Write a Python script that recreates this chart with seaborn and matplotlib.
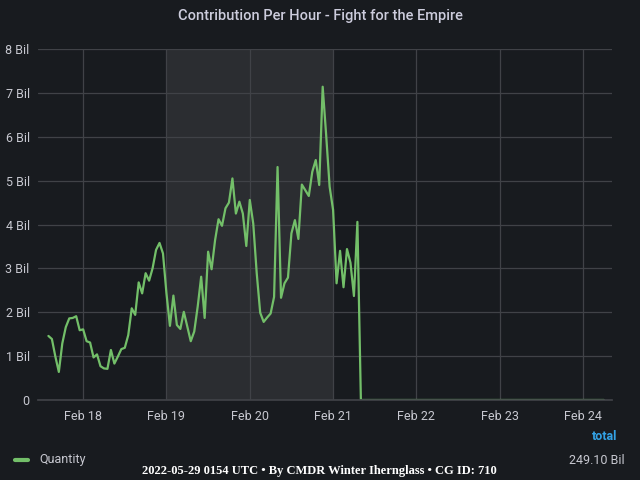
import numpy as np
import pandas as pd
import matplotlib
matplotlib.use("Agg")
import matplotlib.pyplot as plt
import matplotlib.dates as mdates
from matplotlib.ticker import FuncFormatter
import seaborn as sns

# hourly contribution, in billions, from Feb 17 14:00 UTC
start_time = "2022-02-17 14:00"
contrib_bil = [
    1.46, 1.39, 0.99, 0.64, 1.29, 1.66, 1.86, 1.87, 1.91, 1.59,
    1.61, 1.34, 1.31, 0.97, 1.04, 0.77, 0.72, 0.71, 1.14, 0.83,
    0.99, 1.16, 1.19, 1.48, 2.09, 1.94, 2.68, 2.43, 2.89, 2.72,
    3.00, 3.42, 3.58, 3.34, 2.43, 1.69, 2.38, 1.71, 1.62, 2.01,
    1.67, 1.34, 1.56, 2.13, 2.81, 1.87, 3.38, 2.98, 3.64, 4.12,
    3.97, 4.37, 4.50, 5.05, 4.25, 4.52, 4.25, 3.51, 4.56, 4.02,
    2.89, 1.99, 1.78, 1.88, 1.97, 2.35, 5.31, 2.33, 2.66, 2.79,
    3.80, 4.10, 3.67, 4.91, 4.78, 4.65, 5.20, 5.47, 4.90, 7.14,
    6.04, 4.86, 4.33, 2.66, 3.40, 2.57, 3.44, 3.13, 2.37, 4.06,
] + [0.0] * 71
series_name = "Quantity"
total_label = "249.10 Bil"
title = "Contribution Per Hour - Fight for the Empire"
footer = "2022-05-29 0154 UTC \u2022 By CMDR Winter Ihernglass \u2022 CG ID: 710"
highlight = ("2022-02-19 00:00", "2022-02-21 00:00")
x_range = ("2022-02-17 11:00", "2022-02-24 08:20")

df = pd.DataFrame({
    "time": pd.date_range(start_time, periods=len(contrib_bil), freq="h"),
    "value": contrib_bil,
})

bg = "#181b1f"
grid_c = "#404247"
text_c = "#c7c8d0"
green = "#73bf69"

sns.set_theme(style="dark", rc={
    "figure.facecolor": bg, "axes.facecolor": bg,
    "axes.edgecolor": grid_c, "grid.color": grid_c,
    "text.color": text_c, "xtick.color": text_c, "ytick.color": text_c,
    "axes.labelcolor": text_c,
})
plt.rcParams["font.family"] = ["Roboto", "DejaVu Sans"]

fig = plt.figure(figsize=(6.4, 4.8), dpi=100)
ax = fig.add_axes([38 / 640, 80 / 480, 574 / 640, 351 / 480])

ax.axvspan(pd.Timestamp(highlight[0]), pd.Timestamp(highlight[1]),
           color="#2b2d31", zorder=0.2, lw=0)
sns.lineplot(data=df, x="time", y="value", ax=ax, color=green, lw=1.6,
             legend=False)

ax.set_xlim(pd.Timestamp(x_range[0]), pd.Timestamp(x_range[1]))
ax.set_ylim(0, 8)
ax.set_yticks(range(0, 9))
ax.yaxis.set_major_formatter(FuncFormatter(lambda v, p: "0" if v == 0 else f"{int(v)} Bil"))
ax.xaxis.set_major_locator(mdates.DayLocator())
ax.xaxis.set_major_formatter(mdates.DateFormatter("%b %d"))
ax.grid(True, color=grid_c, lw=0.9)
ax.set_axisbelow(True)
ax.tick_params(axis="both", length=0, labelsize=9)
ax.tick_params(axis="y", pad=6)
ax.tick_params(axis="x", pad=7)
ax.set_xlabel("")
ax.set_ylabel("")
for s in ["top", "right", "left"]:
    ax.spines[s].set_visible(False)
ax.spines["bottom"].set_color(grid_c)

fig.text(0.5, 1 - 16 / 480, title, ha="center", va="center",
         fontsize=10.5, fontweight="medium", color="#ccccdc")

# legend table
fig.lines.append(plt.Line2D([15 / 640, 28 / 640], [20 / 480, 20 / 480],
                            color=green, lw=3, transform=fig.transFigure))
fig.text(39 / 640, 20 / 480, series_name, ha="left", va="center",
         fontsize=9, color=text_c)
fig.text(617 / 640, 43 / 480, "total", ha="right", va="center",
         fontsize=9, fontweight="bold", color="#33a2e5")
fig.text(625 / 640, 20 / 480, total_label, ha="right", va="center",
         fontsize=9, color=text_c)
fig.text(319 / 640, 9 / 480, footer, ha="center", va="center",
         fontsize=9, fontweight="bold", color="white",
         family=["Liberation Serif", "DejaVu Serif"])

fig.savefig("out.png", dpi=100, facecolor=bg)
